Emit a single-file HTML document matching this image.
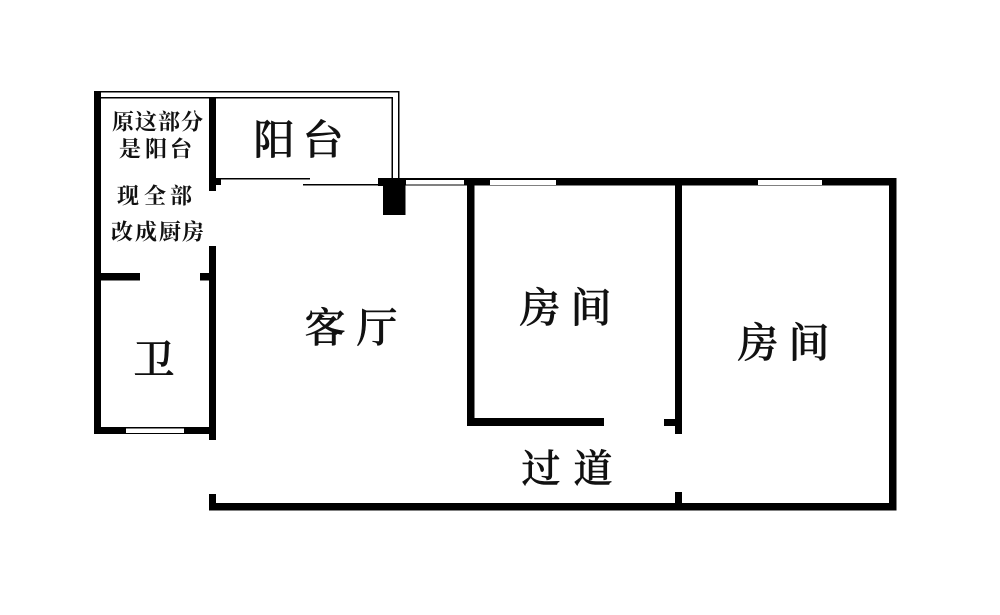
<!DOCTYPE html>
<html lang="zh">
<head>
<meta charset="utf-8">
<style>
html,body{margin:0;padding:0;background:#fff;width:1000px;height:615px;overflow:hidden}
svg{display:block}
text{font-family:"Liberation Serif","Noto Serif CJK SC",serif;fill:#111;text-anchor:middle;dominant-baseline:central}
.s{font-size:22px;font-weight:700}
.l{font-size:41px;font-weight:500;stroke:#111;stroke-width:.6px}
</style>
</head>
<body>
<svg width="1000" height="615" viewBox="0 0 1000 615" xmlns="http://www.w3.org/2000/svg">
<rect width="1000" height="615" fill="#fff"/>
<g fill="#000" shape-rendering="crispEdges">
<!-- balcony thin double lines -->
<rect x="94" y="91" width="305" height="1.4"/>
<rect x="101" y="97" width="291.500" height="1.4"/>
<rect x="398" y="91" width="1.400" height="88"/>
<rect x="391.500" y="97" width="1.400" height="82"/>
<rect x="216" y="178" width="94" height="1.400"/>
<rect x="303" y="184" width="80" height="1.400"/>
<!-- left walls -->
<rect x="94" y="91" width="7" height="343"/>
<rect x="209" y="98" width="7" height="93"/>
<rect x="216" y="178" width="5" height="7"/>
<rect x="209" y="246" width="7" height="194"/>
<rect x="101" y="273" width="39" height="7.500"/>
<rect x="200" y="273" width="9" height="7.500"/>
<rect x="94" y="427" width="122" height="7"/>
<!-- pillar -->
<rect x="378" y="178" width="27.500" height="8"/>
<rect x="383" y="178" width="22.500" height="37"/>
<!-- top wall -->
<rect x="405" y="178" width="491" height="7.500"/>
<!-- right wall -->
<rect x="889" y="178" width="7.500" height="332"/>
<!-- partitions -->
<rect x="467" y="178" width="7.500" height="248"/>
<rect x="467" y="418" width="137" height="8"/>
<rect x="675" y="178" width="7" height="256"/>
<rect x="664" y="419" width="11" height="7"/>
<rect x="675" y="492" width="7" height="12"/>
<!-- bottom wall -->
<rect x="209" y="503" width="687.500" height="7.500"/>
<rect x="209" y="494" width="7" height="10"/>
</g>
<!-- windows -->
<g fill="#fff" shape-rendering="crispEdges">
<rect x="406" y="180" width="58" height="4.500"/>
<rect x="490" y="180" width="66" height="5"/>
<rect x="758" y="180" width="64" height="5"/>
<rect x="126" y="428.500" width="58" height="4.500"/>
</g>
<!-- small kitchen text -->
<text class="s" x="123" y="122">原</text>
<text class="s" x="146" y="122">这</text>
<text class="s" x="169" y="122">部</text>
<text class="s" x="192" y="122">分</text>
<text class="s" x="130" y="149">是</text>
<text class="s" x="156" y="149">阳</text>
<text class="s" x="181" y="149">台</text>
<text class="s" x="128" y="196">现</text>
<text class="s" x="155" y="196">全</text>
<text class="s" x="181" y="196">部</text>
<text class="s" x="122" y="232">改</text>
<text class="s" x="146" y="232">成</text>
<text class="s" x="170" y="232">厨</text>
<text class="s" x="193" y="232">房</text>
<!-- room labels -->
<text class="l" x="274" y="140">阳</text>
<text class="l" x="323" y="140">台</text>
<text class="l" x="154" y="360">卫</text>
<text class="l" x="325" y="328">客</text>
<text class="l" x="377" y="328">厅</text>
<text class="l" x="540" y="308">房</text>
<text class="l" x="591" y="308">间</text>
<text class="l" x="758" y="343">房</text>
<text class="l" x="809" y="343">间</text>
<text class="l" x="541" y="470" style="font-size:39px">过</text>
<text class="l" x="593" y="470" style="font-size:39px">道</text>
</svg>
</body>
</html>
